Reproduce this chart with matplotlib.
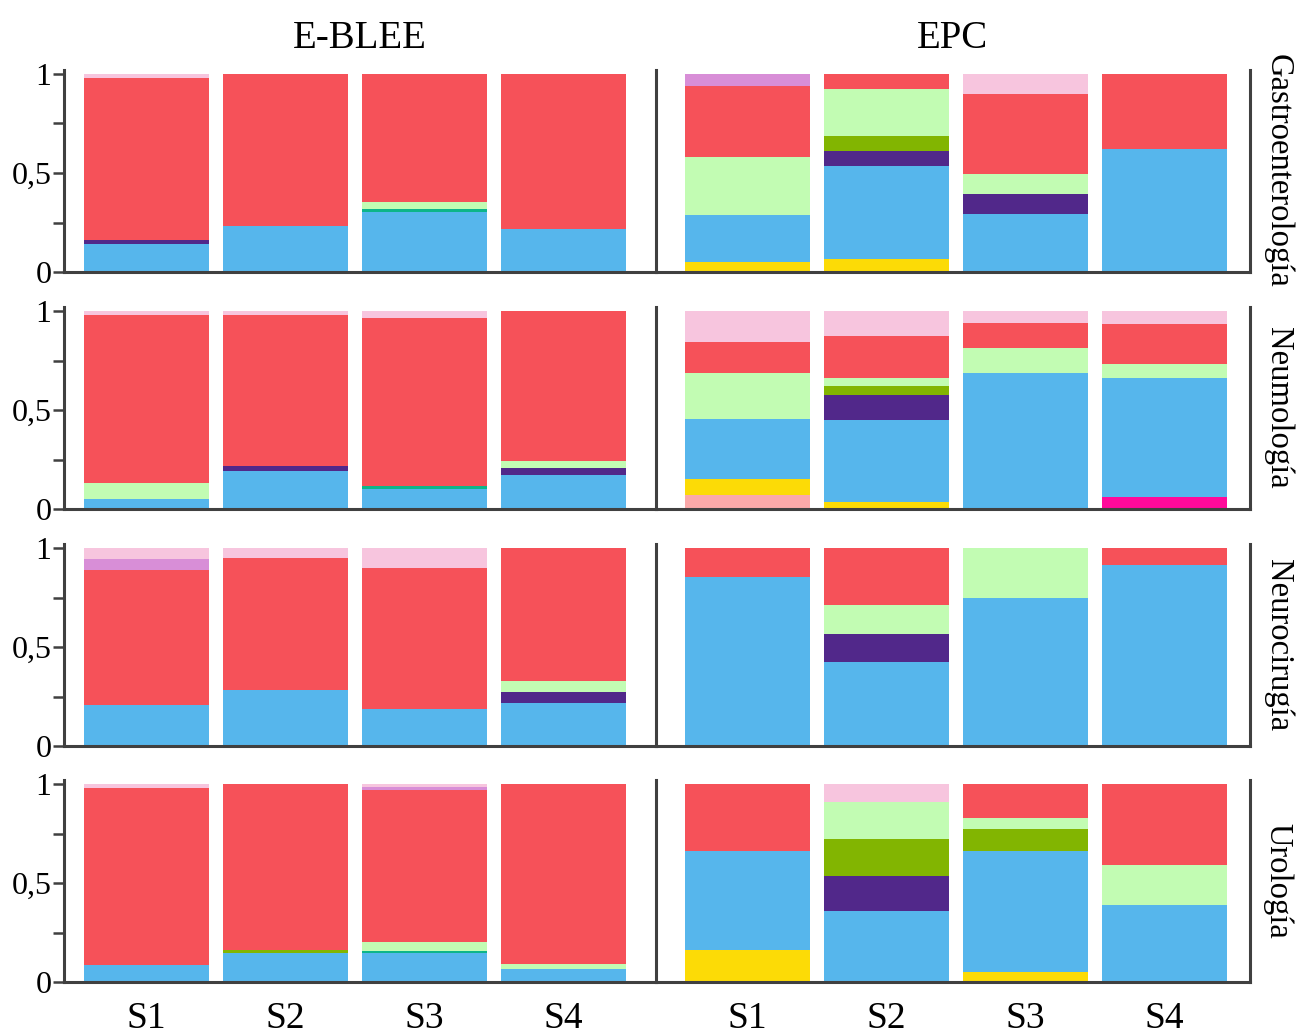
import matplotlib
matplotlib.use("Agg")
import matplotlib.pyplot as plt
import numpy as np

plt.rcParams['font.family'] = ['Liberation Serif', 'DejaVu Serif']

samples = ["S1", "S2", "S3", "S4"]
groups = ["E-BLEE", "EPC"]
services = ["Gastroenterología", "Neumología", "Neurocirugía", "Urología"]

# stacking order, bottom to top
categories = ["salmon", "magenta", "yellow", "blue", "teal", "purple",
              "olive", "lightgreen", "red", "orchid", "pink"]
colors = {
    "salmon": "#FBA9A9", "magenta": "#FF0A9A", "yellow": "#FCDB06",
    "blue": "#56B6EC", "teal": "#0DB58A", "purple": "#51288A",
    "olive": "#82B501", "lightgreen": "#C2FCB3", "red": "#F65159",
    "orchid": "#D88ED7", "pink": "#F7C5DE",
}

# relative abundance per sample (S1..S4)
gastro_eblee = {
    "blue":       [0.143, 0.233, 0.305, 0.219],
    "teal":       [0.0,   0.0,   0.014, 0.0],
    "purple":     [0.017, 0.0,   0.0,   0.0],
    "lightgreen": [0.0,   0.0,   0.035, 0.0],
    "red":        [0.821, 0.767, 0.646, 0.781],
    "pink":       [0.019, 0.0,   0.0,   0.0],
}
gastro_epc = {
    "yellow":     [0.051, 0.067, 0.0,   0.0],
    "blue":       [0.236, 0.467, 0.293, 0.621],
    "purple":     [0.0,   0.076, 0.101, 0.0],
    "olive":      [0.0,   0.079, 0.0,   0.0],
    "lightgreen": [0.295, 0.233, 0.099, 0.0],
    "red":        [0.359, 0.078, 0.405, 0.379],
    "orchid":     [0.059, 0.0,   0.0,   0.0],
    "pink":       [0.0,   0.0,   0.101, 0.0],
}
neumo_eblee = {
    "blue":       [0.052, 0.193, 0.101, 0.174],
    "teal":       [0.0,   0.0,   0.016, 0.0],
    "purple":     [0.0,   0.022, 0.0,   0.035],
    "lightgreen": [0.081, 0.0,   0.0,   0.033],
    "red":        [0.847, 0.763, 0.848, 0.758],
    "pink":       [0.020, 0.022, 0.035, 0.0],
}
neumo_epc = {
    "salmon":     [0.071, 0.0,   0.0,   0.0],
    "magenta":    [0.0,   0.0,   0.0,   0.059],
    "yellow":     [0.078, 0.036, 0.0,   0.0],
    "blue":       [0.305, 0.415, 0.686, 0.605],
    "purple":     [0.0,   0.125, 0.0,   0.0],
    "olive":      [0.0,   0.043, 0.0,   0.0],
    "lightgreen": [0.234, 0.044, 0.128, 0.067],
    "red":        [0.156, 0.210, 0.123, 0.201],
    "pink":       [0.156, 0.127, 0.063, 0.068],
}
neuro_eblee = {
    "blue":       [0.207, 0.281, 0.185, 0.217],
    "purple":     [0.0,   0.0,   0.0,   0.054],
    "lightgreen": [0.0,   0.0,   0.0,   0.055],
    "red":        [0.684, 0.669, 0.716, 0.674],
    "orchid":     [0.052, 0.0,   0.0,   0.0],
    "pink":       [0.057, 0.050, 0.099, 0.0],
}
neuro_epc = {
    "blue":       [0.855, 0.424, 0.748, 0.916],
    "purple":     [0.0,   0.142, 0.0,   0.0],
    "lightgreen": [0.0,   0.145, 0.252, 0.0],
    "red":        [0.145, 0.289, 0.0,   0.084],
}
uro_eblee = {
    "blue":       [0.085, 0.147, 0.146, 0.066],
    "teal":       [0.0,   0.0,   0.013, 0.0],
    "olive":      [0.0,   0.017, 0.0,   0.0],
    "lightgreen": [0.0,   0.0,   0.044, 0.027],
    "red":        [0.896, 0.836, 0.765, 0.907],
    "orchid":     [0.0,   0.0,   0.018, 0.0],
    "pink":       [0.019, 0.0,   0.014, 0.0],
}
uro_epc = {
    "yellow":     [0.160, 0.0,   0.048, 0.0],
    "blue":       [0.502, 0.358, 0.614, 0.390],
    "purple":     [0.0,   0.179, 0.0,   0.0],
    "olive":      [0.0,   0.185, 0.110, 0.0],
    "lightgreen": [0.0,   0.186, 0.055, 0.203],
    "red":        [0.338, 0.0,   0.173, 0.407],
    "pink":       [0.0,   0.092, 0.0,   0.0],
}

panels = [
    [gastro_eblee, gastro_epc],
    [neumo_eblee, neumo_epc],
    [neuro_eblee, neuro_epc],
    [uro_eblee, uro_epc],
]

W, H = 1306, 1034
fig = plt.figure(figsize=(W / 100, H / 100), dpi=100)

spine_col = "#404040"
row_bottoms = [272, 509, 746, 982]      # pixel row of y = 0
unit_px = 198                           # pixels per unit on y
col_edges = [(64, 656), (656, 1250)]    # pixel extent of each panel
pitch = 139                             # bar spacing in pixels
first_center = [146.5, 747.5]

x = np.arange(len(samples))

for r, row in enumerate(panels):
    for c, data in enumerate(row):
        x0, x1 = col_edges[c]
        ytop = 1.02
        bottom_px = row_bottoms[r]
        height_px = unit_px * ytop
        ax = fig.add_axes([x0 / W, 1 - bottom_px / H, (x1 - x0) / W, height_px / H])

        base = np.zeros(len(samples))
        for cat in categories:
            if cat not in data:
                continue
            vals = np.array(data[cat])
            ax.bar(x, vals, bottom=base, width=0.9, color=colors[cat],
                   edgecolor="none", linewidth=0)
            base += vals

        ax.set_xlim((x0 - first_center[c]) / pitch, (x1 - first_center[c]) / pitch)
        ax.set_ylim(0, ytop)

        ax.spines["top"].set_visible(False)
        ax.spines["right"].set_visible(c == 1)
        for s in ["left", "bottom", "right"]:
            ax.spines[s].set_color(spine_col)
            ax.spines[s].set_linewidth(2.2)

        ax.set_yticks([0, 0.5, 1])
        ax.set_yticks([0.25, 0.75], minor=True)
        if c == 0:
            ax.set_yticklabels(["0", "0,5", "1"], fontsize=23)
            ax.tick_params(axis="y", which="both", length=8, width=1.8,
                           color=spine_col, direction="out", pad=1)
        else:
            ax.tick_params(axis="y", which="both", left=False, labelleft=False)

        ax.set_xticks(x)
        if r == len(panels) - 1:
            ax.set_xticklabels(samples, fontsize=27)
            ax.tick_params(axis="x", length=0, pad=14)
        else:
            ax.tick_params(axis="x", length=0, labelbottom=False)

        if r == 0:
            ax.set_title(groups[c], fontsize=28, pad=16)
        if c == 1:
            ax.text(1.047, 0.5, services[r], transform=ax.transAxes,
                    rotation=270, ha="center", va="center", fontsize=23.5)

fig.savefig("out.png", dpi=100)
